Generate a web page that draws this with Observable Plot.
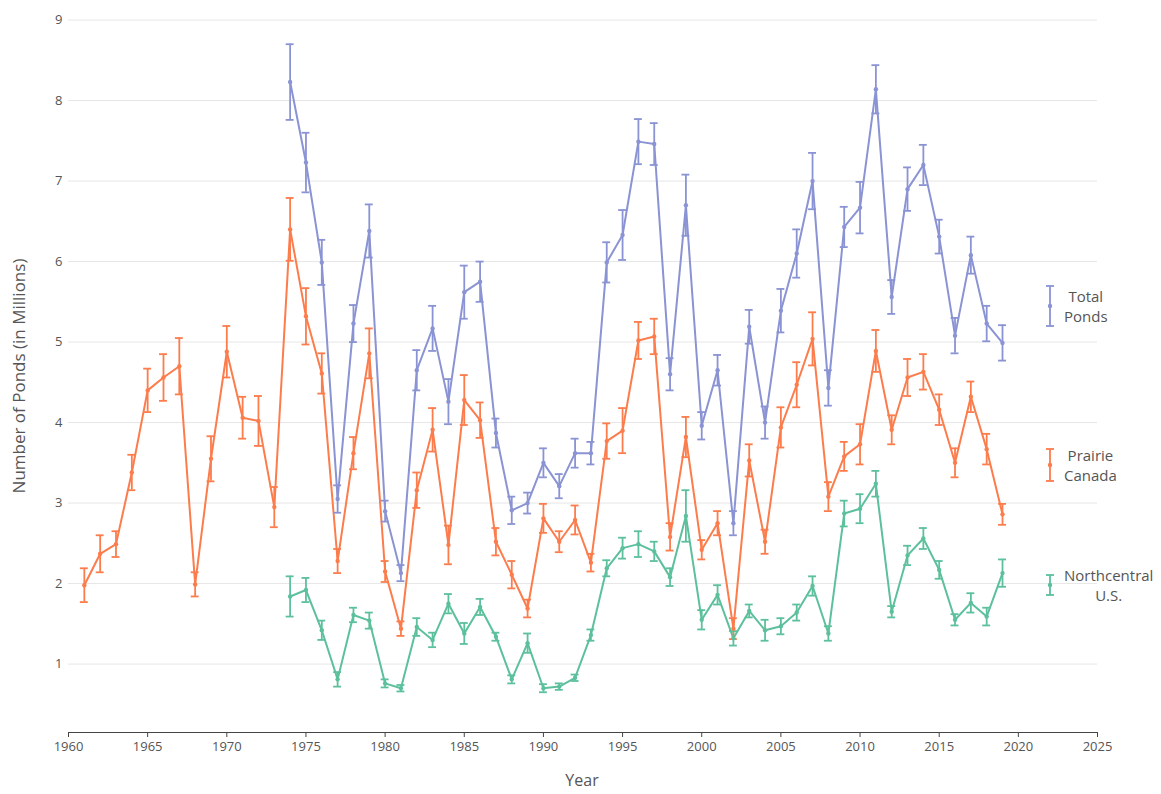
<!DOCTYPE html>
<html>
<head>
<meta charset="utf-8">
<script src="https://cdn.jsdelivr.net/npm/d3@7"></script>
<script src="https://cdn.jsdelivr.net/npm/@observablehq/plot@0.6"></script>
<style>
  html, body { margin: 0; padding: 0; background: #fff; }
  #wrap { position: relative; width: 1161px; height: 794px; font-family: "Open Sans", sans-serif; color: #444; overflow: hidden; }
  #chart svg { display: block; }
  .ylab { position: absolute; left: 18px; top: 376px; transform: translate(-50%, -50%) rotate(-90deg); font-size: 17px; color: #555; white-space: nowrap; }
  .xlab { position: absolute; left: 582px; top: 780px; transform: translate(-50%, -50%); font-size: 16px; line-height: 20px; color: #555; }
  .leg { position: absolute; display: flex; align-items: center; font-size: 15px; color: #555; line-height: 20px; }
  .leg .txt { text-align: center; margin-left: 8px; }
</style>
</head>
<body>
<div id="wrap">
  <div id="chart"></div>
  <div class="ylab">Number of Ponds (in Millions)</div>
  <div class="xlab">Year</div>
  <div id="legend"></div>
</div>
<script>
// ---- data ----
const seriesNames = ["Total Ponds", "Prairie Canada", "Northcentral U.S."];
const legendLines = [["Total", "Ponds"], ["Prairie", "Canada"], ["Northcentral", "U.S."]];
const seriesColors = ["#8a93d3", "#fc7c4c", "#5cc09c"];

const yearsPC = [1961,1962,1963,1964,1965,1966,1967,1968,1969,1970,1971,1972,1973,
  1974,1975,1976,1977,1978,1979,1980,1981,1982,1983,1984,1985,1986,1987,1988,1989,1990,
  1991,1992,1993,1994,1995,1996,1997,1998,1999,2000,2001,2002,2003,2004,2005,
  2006,2007,2008,2009,2010,2011,2012,2013,2014,2015,2016,2017,2018,2019];
const prairieValues = [1.98,2.37,2.49,3.38,4.40,4.56,4.70,1.99,3.55,4.88,4.06,4.02,2.95,
  6.40,5.32,4.61,2.28,3.62,4.86,2.15,1.44,3.16,3.91,2.48,4.28,4.03,2.52,2.11,1.69,2.81,
  2.52,2.79,2.26,3.77,3.90,5.02,5.07,2.58,3.82,2.42,2.75,1.44,3.53,2.52,3.94,
  4.47,5.04,3.08,3.58,3.73,4.89,3.91,4.56,4.63,4.16,3.50,4.32,3.67,2.86];
const prairieErrors = [0.21,0.23,0.16,0.22,0.27,0.29,0.35,0.15,0.28,0.32,0.26,0.31,0.25,
  0.39,0.35,0.25,0.15,0.20,0.31,0.13,0.09,0.22,0.27,0.24,0.31,0.22,0.17,0.17,0.11,0.18,
  0.13,0.18,0.11,0.22,0.28,0.23,0.22,0.17,0.25,0.12,0.15,0.13,0.20,0.15,0.25,
  0.28,0.33,0.18,0.18,0.25,0.26,0.18,0.23,0.22,0.19,0.18,0.19,0.19,0.13];

const yearsUS = [1974,1975,1976,1977,1978,1979,1980,1981,1982,1983,1984,1985,1986,1987,1988,1989,1990,
  1991,1992,1993,1994,1995,1996,1997,1998,1999,2000,2001,2002,2003,2004,2005,
  2006,2007,2008,2009,2010,2011,2012,2013,2014,2015,2016,2017,2018,2019];
const totalValues = [8.23,7.23,5.99,3.05,5.23,6.38,2.90,2.13,4.65,5.17,4.26,5.62,5.75,3.87,2.91,3.00,3.50,
  3.21,3.62,3.62,5.99,6.33,7.49,7.46,4.60,6.70,3.96,4.65,2.75,5.19,4.00,5.39,
  6.10,7.00,4.43,6.43,6.67,8.14,5.56,6.90,7.20,6.31,5.08,6.08,5.23,4.99];
const totalErrors = [0.47,0.37,0.28,0.17,0.23,0.33,0.13,0.10,0.25,0.28,0.28,0.33,0.25,0.18,0.17,0.13,0.18,
  0.15,0.18,0.14,0.25,0.31,0.28,0.26,0.20,0.38,0.17,0.19,0.15,0.21,0.20,0.27,
  0.30,0.35,0.22,0.25,0.32,0.30,0.21,0.27,0.25,0.21,0.22,0.23,0.22,0.22];
const northValues = [1.84,1.92,1.42,0.81,1.61,1.54,0.76,0.70,1.46,1.30,1.75,1.38,1.71,1.34,0.81,1.26,0.70,
  0.72,0.83,1.36,2.19,2.44,2.49,2.40,2.08,2.84,1.55,1.86,1.32,1.66,1.42,1.47,
  1.64,1.97,1.38,2.87,2.93,3.24,1.65,2.35,2.56,2.17,1.55,1.76,1.59,2.13];
const northErrors = [0.25,0.15,0.12,0.09,0.09,0.10,0.05,0.04,0.11,0.09,0.12,0.13,0.10,0.05,0.05,0.12,0.05,
  0.04,0.04,0.07,0.10,0.13,0.16,0.12,0.11,0.32,0.12,0.12,0.09,0.08,0.13,0.10,
  0.10,0.12,0.09,0.16,0.18,0.16,0.07,0.12,0.13,0.11,0.07,0.12,0.11,0.17];

const xTicks = [1960,1965,1970,1975,1980,1985,1990,1995,2000,2005,2010,2015,2020,2025];
const yTicks = [1,2,3,4,5,6,7,8,9];

// ---- build table ----
function rowsFor(name, years, vals, errs) {
  return years.map((yr, i) => ({series: name, year: yr, value: vals[i], lo: vals[i] - errs[i], hi: vals[i] + errs[i]}));
}
const rows = [
  ...rowsFor(seriesNames[0], yearsUS, totalValues, totalErrors),
  ...rowsFor(seriesNames[1], yearsPC, prairieValues, prairieErrors),
  ...rowsFor(seriesNames[2], yearsUS, northValues, northErrors)
];
const capHalf = 0.25;

const plot = Plot.plot({
  width: 1161,
  height: 794,
  marginLeft: 68,
  marginRight: 64,
  marginTop: 7.5,
  marginBottom: 62,
  style: {fontFamily: "Open Sans, sans-serif", fontSize: "13px", color: "#444", background: "#fff"},
  x: {domain: [1960, 2025], label: null},
  y: {domain: [0.15, 9.15], label: null},
  color: {domain: seriesNames, range: seriesColors},
  marks: [
    Plot.gridY({ticks: yTicks, stroke: "#e6e6e6", strokeOpacity: 1, strokeWidth: 1}),
    Plot.axisY({ticks: yTicks, tickSize: 0, tickPadding: 6, label: null, fill: "#555"}),
    Plot.axisX({ticks: xTicks, tickFormat: d => String(d), tickSize: 5, tickPadding: 4, label: null, stroke: "#444", fill: "#555"}),
    Plot.frame({anchor: "bottom", stroke: "#444"}),
    Plot.line(rows, {x: "year", y: "value", z: "series", stroke: "series", strokeWidth: 2}),
    Plot.ruleX(rows, {x: "year", y1: "lo", y2: "hi", stroke: "series", strokeWidth: 1.8}),
    Plot.ruleY(rows, {y: "hi", x1: d => d.year - capHalf, x2: d => d.year + capHalf, stroke: "series", strokeWidth: 1.8}),
    Plot.ruleY(rows, {y: "lo", x1: d => d.year - capHalf, x2: d => d.year + capHalf, stroke: "series", strokeWidth: 1.8}),
    Plot.dot(rows, {x: "year", y: "value", fill: "series", r: 2.2})
  ]
});
document.getElementById("chart").appendChild(plot);

// ---- legend (HTML overlay) ----
const legendTops = [306, 465, 585];
const legendHalf = [20, 16, 10];
const leg = document.getElementById("legend");
seriesNames.forEach((name, i) => {
  const h = legendHalf[i] * 2 + 4;
  const div = document.createElement("div");
  div.className = "leg";
  div.style.left = (1050 - 6) + "px";
  div.style.top = (legendTops[i] - 20) + "px";
  div.style.height = "40px";
  const c = seriesColors[i];
  div.innerHTML = `<svg width="12" height="${h}" style="overflow:visible">
      <line x1="6" x2="6" y1="2" y2="${h - 2}" stroke="${c}" stroke-width="1.8"/>
      <line x1="2" x2="10" y1="2" y2="2" stroke="${c}" stroke-width="1.8"/>
      <line x1="2" x2="10" y1="${h - 2}" y2="${h - 2}" stroke="${c}" stroke-width="1.8"/>
      <circle cx="6" cy="${h / 2}" r="2.2" fill="${c}"/>
    </svg><div class="txt">${legendLines[i][0]}<br>${legendLines[i][1]}</div>`;
  leg.appendChild(div);
});
</script>
</body>
</html>
